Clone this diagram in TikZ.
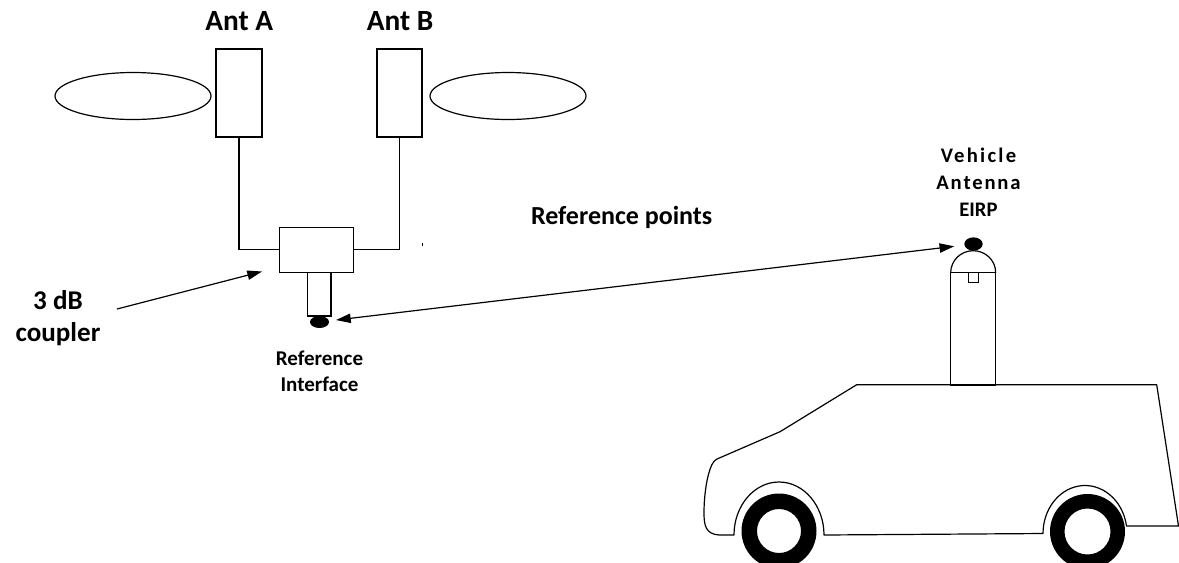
\documentclass[tikz,border=0pt]{standalone}
\usepackage{fontspec}
\setmainfont{Carlito}
\usetikzlibrary{arrows.meta,shapes.geometric}
\newcommand{\spaced}[2]{{\addfontfeature{LetterSpace=#1}#2}}
\begin{document}
\begin{tikzpicture}[x=0.75pt,y=-0.75pt,
  outline/.style={draw=black,line width=0.9pt},
  box/.style={outline,rectangle,inner sep=0pt},
  lobe/.style={outline,ellipse,inner sep=0pt,minimum width=117pt,minimum height=35.25pt},
  dot/.style={fill=black,ellipse,inner sep=0pt},
  lbl/.style={inner sep=0pt,font=\bfseries},
  arr/.style={line width=0.9pt,-{Triangle[length=11pt,width=7pt]}},
  darr/.style={line width=0.9pt,{Triangle[length=11pt,width=7pt]}-{Triangle[length=11pt,width=7pt]}}]
\useasboundingbox (0,0) rectangle (1179,562);
\clip (0,0) rectangle (1179,562);

% antennas and their radiation lobes
\node[box,minimum width=34.5pt,minimum height=66pt] (antA) at (239,93) {};
\node[box,minimum width=33.75pt,minimum height=66pt] (antB) at (399.5,93) {};
\node[lobe] (lobeA) at (133,96) {};
\node[lobe] (lobeB) at (508,96) {};
\node[lbl,anchor=base,font=\bfseries\fontsize{22}{26}\selectfont] (antAlbl) at (239.3,30) {Ant A};
\node[lbl,anchor=base,font=\bfseries\fontsize{22}{26}\selectfont] (antBlbl) at (400,30) {Ant B};

% 3 dB coupler and reference interface
\node[box,minimum width=55.8pt,minimum height=33.75pt] (cpl) at (316.5,249.8) {};
\node[box,minimum width=17.5pt,minimum height=32.8pt] (stem) at (319.4,294.2) {};
\node[dot,minimum width=14.25pt,minimum height=9pt] (refdot) at (319.5,322) {};
\draw[outline] (antA.south) |- (cpl.west);
\draw[outline] (antB.south) |- (cpl.east);
\draw[line width=0.6pt] (422.3,242.5) -- (422.3,245.5);

\node[lbl,anchor=base,align=center,font=\bfseries\fontsize{20.3}{24}\selectfont] (cpltxt) at (58,341.7) {3 dB\\coupler};
\coordinate (cplfrom) at (117,309);
\coordinate (cplto) at (262,271.5);
\draw[arr] (cplfrom) -- (cplto);

\node[lbl,anchor=base,align=center,font=\bfseries\fontsize{15.75}{19.5}\selectfont] (reftxt) at (319.5,391) {Reference\\Interface};

\node[lbl,anchor=base,font=\bfseries\fontsize{19.5}{23}\selectfont] (pts) at (621.7,224.3) {Reference points};

% vehicle antenna
\draw[outline] (950.7,272.7) rectangle (995.7,385);
\draw[outline] (950.7,272.7) arc[start angle=180,end angle=360,x radius=22.5,y radius=22];
\draw[line width=0.6pt] (968.3,272.7) rectangle (978.3,282.3);
\node[dot,minimum width=13.8pt,minimum height=10pt] (vdot) at (973.5,244) {};
\node[lbl,anchor=base,align=center,font=\bfseries\fontsize{15.5}{19.9}\selectfont] (vtxt) at (978.5,216)
  {\spaced{11}{Vehicle}\\\spaced{9}{Antenna}\\EIRP};

\draw[darr,shorten <=5.25pt,shorten >=7.5pt] (refdot) -- (vdot);

% vehicle body
\draw[outline,line join=round] (734,535) -- (719,535)
  .. controls (706,534) and (704,526) .. (704,513)
  .. controls (704,495) and (707,475) .. (711.7,465)
  .. controls (713,462) and (715,460) .. (717,459)
  -- (780,431.7) -- (856.7,384.7) -- (1156.7,384.7) -- (1178.5,526) -- (1126.5,526)
  arc[start angle=351,end angle=180,x radius=42,y radius=48]
  -- (824,535)
  arc[start angle=0,end angle=-180,x radius=45,y radius=53]
  -- cycle;

% wheels
\fill[even odd rule] (779,531) circle[radius=37.5] (779,531) circle[radius=22];
\fill[even odd rule] (1087.5,531.5) circle[radius=37.5] (1087.5,531.5) circle[radius=23];
\end{tikzpicture}
\end{document}
